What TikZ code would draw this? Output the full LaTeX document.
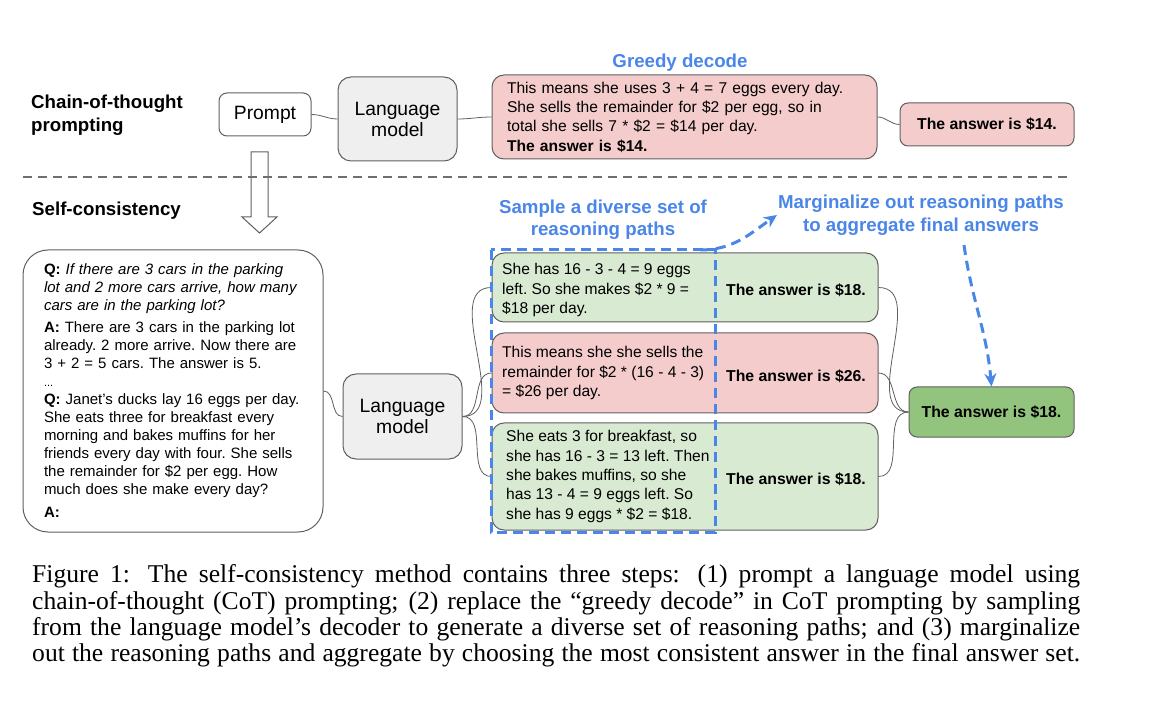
\documentclass[tikz,border=0pt]{standalone}
\usepackage{fontspec}
\setmainfont{Liberation Sans}
\newfontfamily\capfont{Liberation Serif}
\usetikzlibrary{arrows.meta}
\definecolor{boxline}{HTML}{5F5F5F}
\definecolor{lmgray}{HTML}{EFEFEF}
\definecolor{lightred}{HTML}{F4CCCC}
\definecolor{lightgreen}{HTML}{D9EAD3}
\definecolor{darkgreen}{HTML}{93C47D}
\definecolor{gblue}{HTML}{4A86E8}
\frenchspacing
\begin{document}
\begin{tikzpicture}[x=1pt, y=-1pt,
  box/.style={draw=boxline, line width=1pt, rounded corners=8pt, inner sep=0pt},
  lm/.style={box, fill=lmgray, rounded corners=13pt, minimum width=119pt, minimum height=84pt, align=center, font=\fontsize{19.3}{21}\selectfont},
  reason/.style={box, rounded corners=12pt, minimum width=386pt},
  reasontext/.style={anchor=west, align=left, inner sep=0pt, font=\fontsize{15.6}{19.3}\selectfont},
  answer/.style={inner sep=0pt, font=\fontsize{15.8}{19}\selectfont\bfseries},
  heading/.style={anchor=west, align=left, inner sep=0pt, font=\fontsize{18.7}{23}\selectfont\bfseries},
  bluetext/.style={text=gblue, align=center, inner sep=1pt, font=\fontsize{18.7}{22.5}\selectfont\bfseries},
  conn/.style={draw=boxline, line width=0.8pt},
  bluedash/.style={draw=gblue, line width=3pt, dash pattern=on 10pt off 6pt}
]
\useasboundingbox (0,0) rectangle (1162,708);
\node[heading] (cot) at (31,115.5) {Chain-of-thought\\prompting};
\node[heading] (sc) at (32,211) {Self-consistency};
\node[box, minimum width=92pt, minimum height=43pt, font=\fontsize{19.3}{21}\selectfont] (prompt) at (265,114.5) {Prompt};
\node[lm] (lm1) at (397.5,119) {Language\\model};
\node[bluetext] (greedylbl) at (680,63) {Greedy decode};
\node[box, fill=lightred, rounded corners=12pt, minimum width=385pt, minimum height=84pt, text width=355pt, inner xsep=15pt, align=left, font=\fontsize{15.6}{19.3}\selectfont] (greedy) at (684.5,117) {This means she uses 3 + 4 = 7 eggs every day.\\She sells the remainder for \$2 per egg, so in\\total she sells 7 * \$2 = \$14 per day.\\\textbf{The answer is \$14.}};
\node[box, fill=lightred, minimum width=174pt, minimum height=43pt, font=\fontsize{15.8}{19}\selectfont\bfseries] (ans1) at (987,124.5) {The answer is \$14.};
\draw[conn] (prompt.east) to[out=0,in=180] (lm1.west);
\draw[conn] (lm1.east) to[out=0,in=180] (greedy.west);
\draw[conn] (greedy.east) to[out=0,in=180] (ans1.west);
\draw[boxline, line width=1pt] (251,152) -- (268,152) -- (268,217) -- (277,217) -- (259.5,233) -- (242,217) -- (251,217) -- cycle;
\draw[boxline!90, line width=2pt, dash pattern=on 9pt off 6pt] (23,177) -- (1072,177);
\node[box, rounded corners=25pt, minimum width=300pt, minimum height=282pt, text width=258pt, inner xsep=21pt, align=left, font=\fontsize{15}{18}\selectfont] (ctx) at (173,391) {\textbf{Q:} \textit{If there are 3 cars in the parking}\\\textit{lot and 2 more cars arrive, how many}\\\textit{cars are in the parking lot?}\\[4pt]
\textbf{A:} There are 3 cars in the parking lot\\already. 2 more arrive. Now there are\\3 + 2 = 5 cars. The answer is 5.\\{\fontsize{11}{18}\selectfont ...}\\
\textbf{Q:} Janet’s ducks lay 16 eggs per day.\\She eats three for breakfast every\\morning and bakes muffins for her\\friends every day with four. She sells\\the remainder for \$2 per egg. How\\much does she make every day?\\[5pt]
\textbf{A:}};
\node[lm, minimum height=85pt] (lm2) at (402.5,416.5) {Language\\model};
\node[bluetext] (sample) at (603,219.5) {Sample a diverse set of\\reasoning paths};
\node[bluetext] (marg) at (921,215) {Marginalize out reasoning paths\\to aggregate final answers};
\node[reason, fill=lightgreen, minimum height=69pt] (p1) at (685,287.5) {};
\node[reason, fill=lightred, minimum height=80pt] (p2) at (685,373) {};
\node[reason, fill=lightgreen, minimum height=107pt] (p3) at (685,476.5) {};
\node[reasontext] (p1txt) at (502,290) {She has 16 - 3 - 4 = 9 eggs\\left. So she makes \$2 * 9 =\\\$18 per day.};
\node[reasontext] (p2txt) at (502,373) {This means she she sells the\\remainder for \$2 * (16 - 4 - 3)\\= \$26 per day.};
\node[reasontext] (p3txt) at (506,476.5) {She eats 3 for breakfast, so\\she has 16 - 3 = 13 left. Then\\she bakes muffins, so she\\has 13 - 4 = 9 eggs left. So\\she has 9 eggs * \$2 = \$18.};
\node[answer] (a1) at (796,290) {The answer is \$18.};
\node[answer] (a2) at (796,376) {The answer is \$26.};
\node[answer] (a3) at (796,479) {The answer is \$18.};
\node[box, fill=darkgreen, minimum width=165pt, minimum height=50pt, font=\fontsize{15.8}{19}\selectfont\bfseries] (fin) at (991.5,412) {The answer is \$18.};
\draw[conn] (ctx.east) to[out=0,in=180] (lm2.west);
\draw[conn] (lm2.east) to[out=0,in=180] (p1.west);
\draw[conn] (lm2.east) to[out=0,in=180] (p2.west);
\draw[conn] (lm2.east) to[out=0,in=180] (p3.west);
\draw[conn] (p1.east) to[out=0,in=180] (fin.west);
\draw[conn] (p2.east) to[out=0,in=180] (fin.west);
\draw[conn] (p3.east) to[out=0,in=180] (fin.west);
\draw[bluedash] (491,250) rectangle (715,532);
\draw[bluedash, -{Stealth[length=13pt,width=12pt]}] (700,250) to[out=0,in=215] (marg.west);
\coordinate (margfoot) at (964,245);
\draw[bluedash, -{Stealth[length=13pt,width=12pt]}] (margfoot) to[out=-82,in=95] (fin.north);
\node[anchor=west, align=left, inner sep=0pt, font=\capfont\fontsize{25.6}{26.2}\selectfont\nonfrenchspacing] (caption) at (32,616) {\makebox[1048pt][s]{Figure 1: The self-consistency method contains three steps: (1) prompt a language model using}\\\makebox[1048pt][s]{chain-of-thought (CoT) prompting; (2) replace the “greedy decode” in CoT prompting by sampling}\\\makebox[1048pt][s]{from the language model’s decoder to generate a diverse set of reasoning paths; and (3) marginalize}\\\makebox[1048pt][s]{out the reasoning paths and aggregate by choosing the most consistent answer in the final answer set.}};
\end{tikzpicture}
\end{document}
